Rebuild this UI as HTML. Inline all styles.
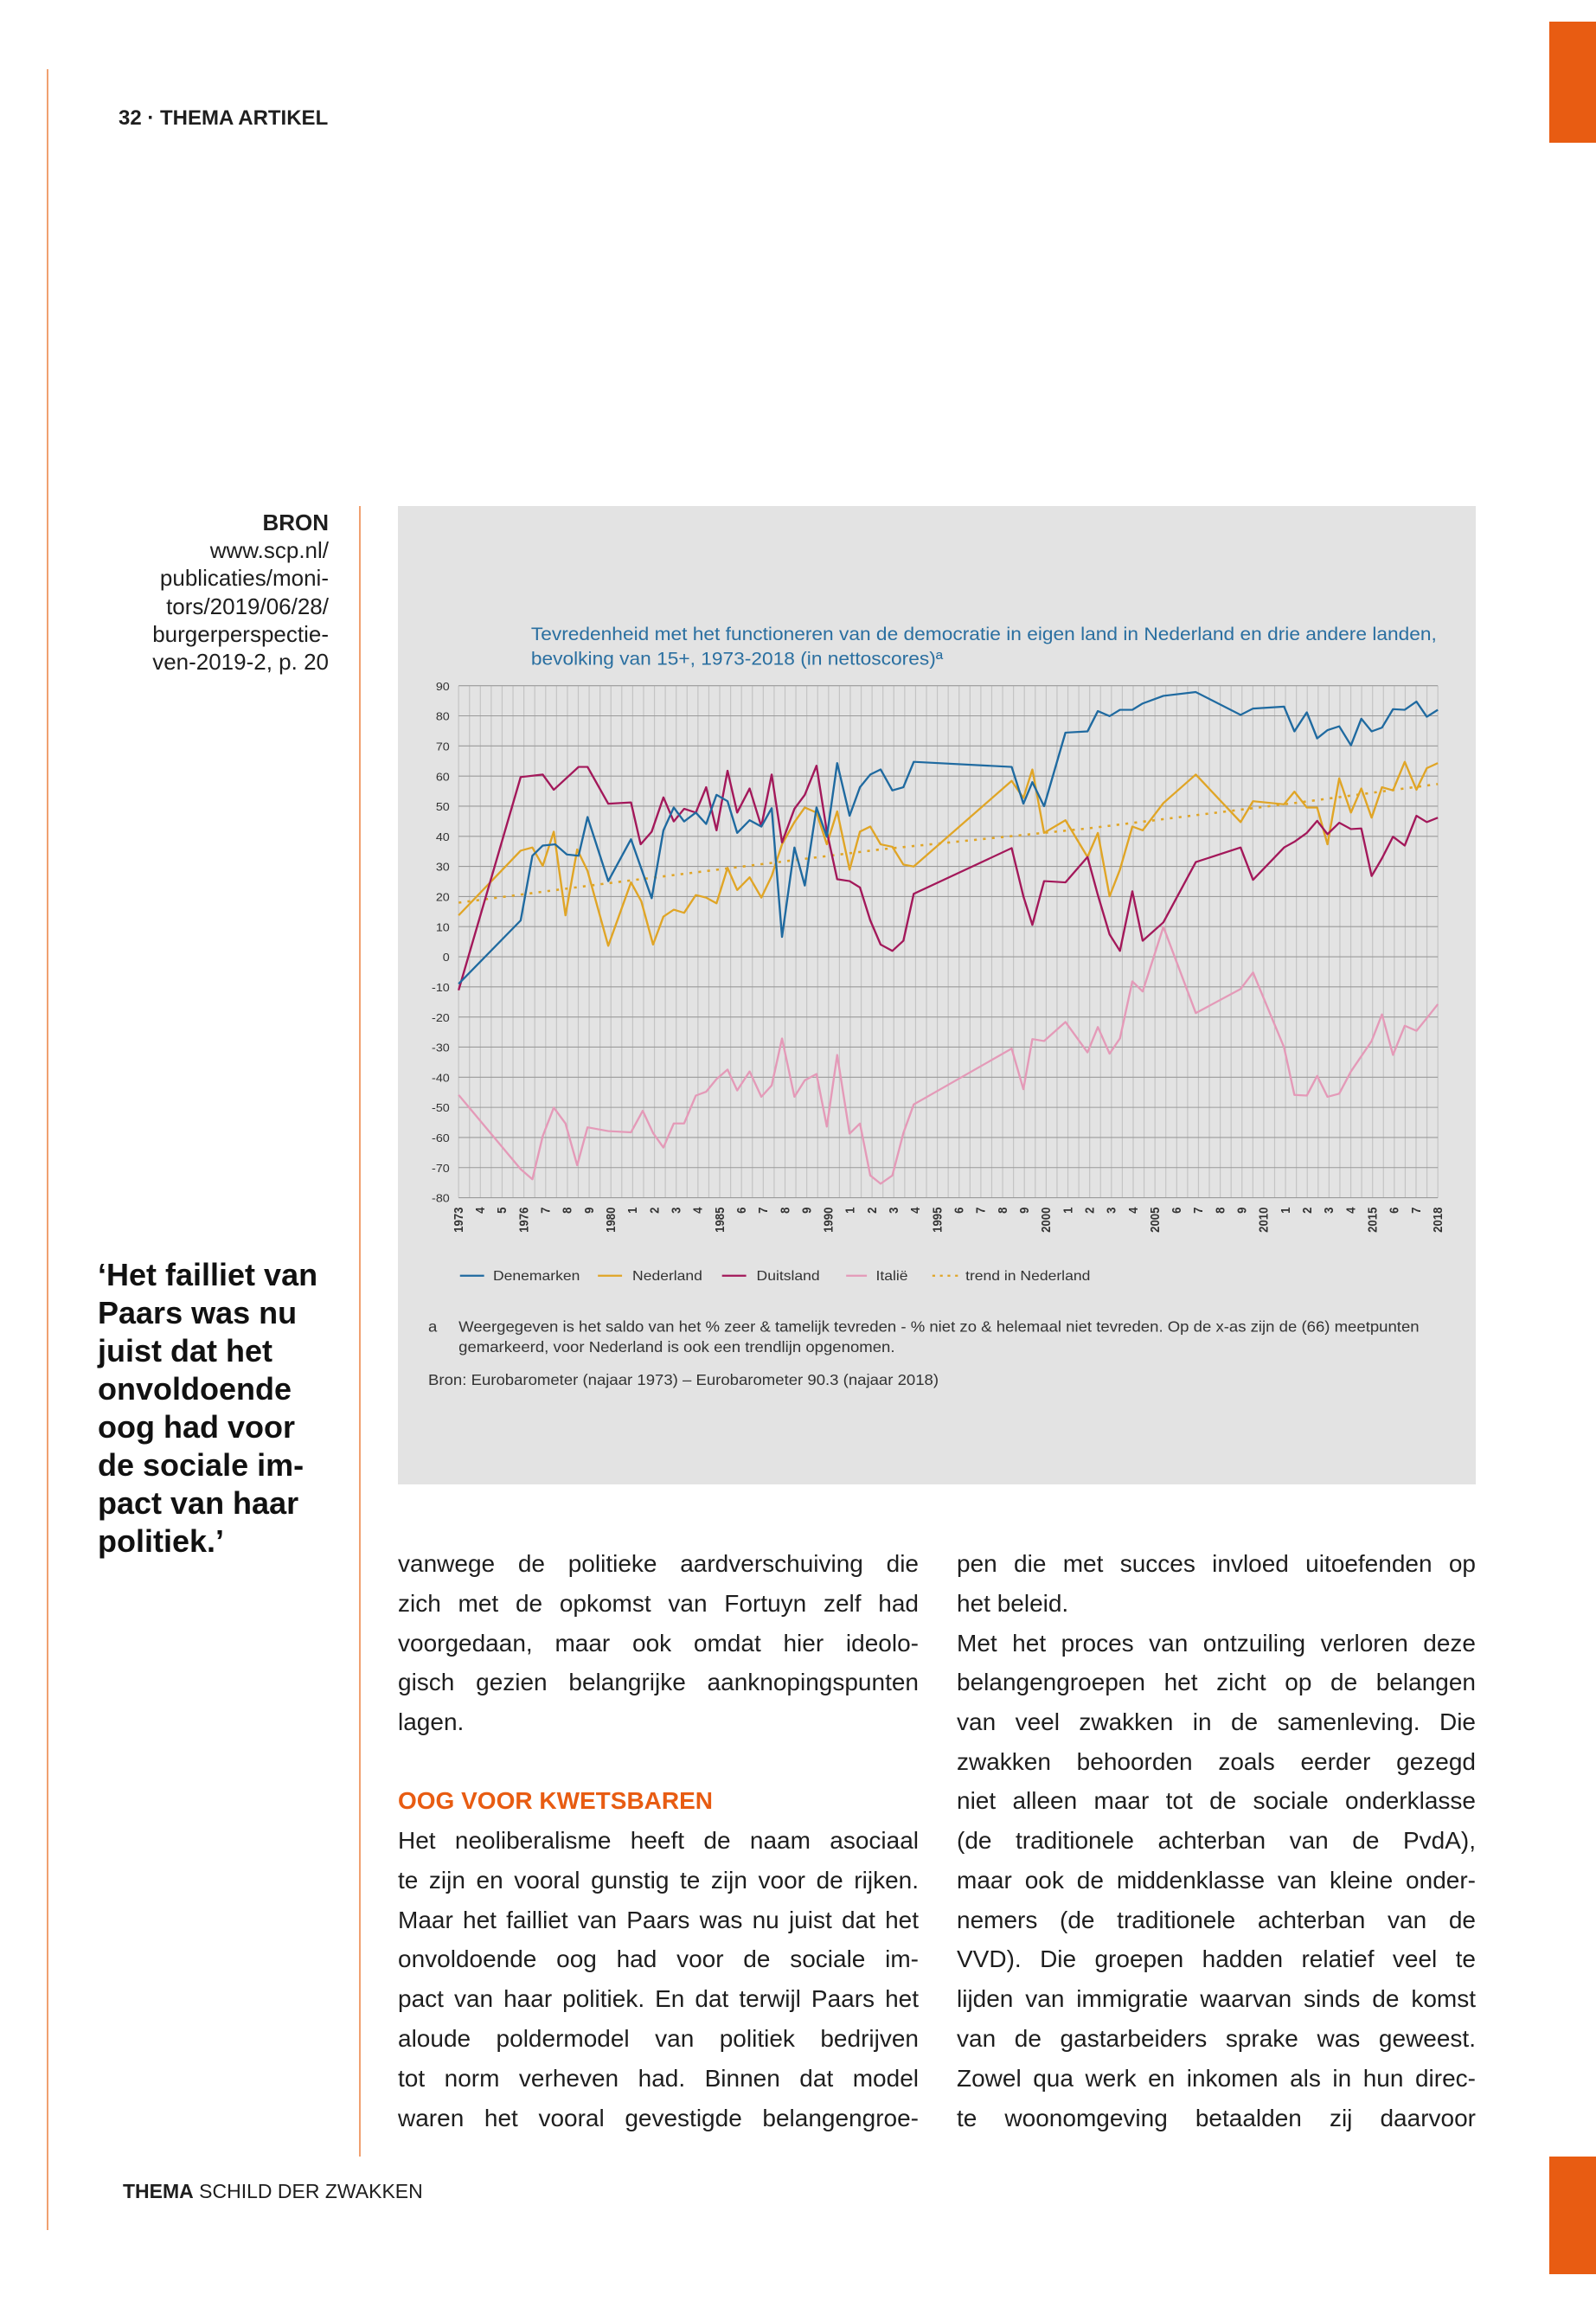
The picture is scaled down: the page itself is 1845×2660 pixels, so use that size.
<!DOCTYPE html>
<html><head><meta charset="utf-8"><style>
body{margin:0;width:1845px;height:2660px;position:relative;background:#fff;font-family:"Liberation Sans",sans-serif;color:#1e1e1e;overflow:hidden}
.a{position:absolute}
.ln{position:absolute;height:46px;line-height:46px;font-size:28px;white-space:nowrap}
.j{text-align:justify;text-align-last:justify}
.q{position:absolute;left:113px;font-size:36px;font-weight:bold;line-height:44px;color:#111}
.b{position:absolute;right:1465px;font-size:26px;line-height:32px;text-align:right;white-space:nowrap}
</style></head><body>
<div class="a" style="left:1791px;top:25px;width:54px;height:140px;background:#e85c12"></div>
<div class="a" style="left:1791px;top:2493px;width:54px;height:136px;background:#e85c12"></div>
<div class="a" style="left:54px;top:80px;width:2px;height:2498px;background:#f0a070"></div>
<div class="a" style="left:415px;top:585px;width:2px;height:1908px;background:#f0a070"></div>
<div class="a" style="left:137px;top:123px;font-size:24px;font-weight:bold;white-space:nowrap">32 · THEMA ARTIKEL</div>

<div class="b" style="top:588px;font-weight:bold">BRON</div>
<div class="b" style="top:620px">www.scp.nl/</div>
<div class="b" style="top:652px">publicaties/moni-</div>
<div class="b" style="top:685px">tors/2019/06/28/</div>
<div class="b" style="top:717px">burgerperspectie-</div>
<div class="b" style="top:749px">ven-2019-2, p. 20</div>

<div class="q" style="top:1452px">‘Het failliet van<br>Paars was nu<br>juist dat het<br>onvoldoende<br>oog had voor<br>de sociale im-<br>pact van haar<br>politiek.’</div>

<div class="a" style="left:460px;top:585px;width:1246px;height:1131px;background:#e3e3e3"></div>
<svg class="a" style="left:460px;top:580px" width="1250" height="1150" viewBox="0 0 1568 1568" preserveAspectRatio="none" font-family="Liberation Sans, sans-serif">
<g id="vg" stroke="#c4c4c4" stroke-width="1.5"></g>
<g id="hg" stroke="#9a9a9a" stroke-width="1.5"></g>
<text x="193" y="218" font-size="28.5" fill="#2a6fa0">Tevredenheid met het functioneren van de democratie in eigen land in Nederland en drie andere landen,</text>
<text x="193" y="257" font-size="28.5" fill="#2a6fa0">bevolking van 15+, 1973-2018 (in nettoscores)ª</text>
<g id="yl" font-size="18" fill="#333" text-anchor="end"></g>
<g id="xl" font-size="18" fill="#333" font-weight="bold"></g>
<g fill="none" stroke-width="3" stroke-linejoin="round">
<polyline stroke="#e49ab8" points="88,935 178,1052 195,1068 210,1000 226,955 243,980 260,1046 275,986 305,992 338,994 355,960 370,995 385,1018 400,980 415,980 432,936 447,930 462,910 478,895 492,928 510,898 527,938 542,920 557,846 575,938 590,912 607,902 622,985 637,872 655,996 670,980 685,1062 700,1075 717,1062 733,995 748,950 890,862 907,926 920,847 937,850 968,820 1000,868 1015,828 1032,870 1047,846 1065,756 1080,772 1110,670 1157,806 1222,768 1240,742 1285,860 1300,935 1318,936 1333,905 1348,938 1365,933 1382,898 1412,850 1427,808 1443,872 1460,826 1477,834 1492,814 1508,792"/>
<polyline stroke="#e0a526" stroke-width="3.5" stroke-dasharray="4,9" points="88,632 300,602 700,548 1000,515 1300,475 1508,445"/>
<polyline stroke="#e0a526" points="88,652 178,550 195,545 210,574 226,520 243,652 260,548 275,582 305,700 338,600 353,630 370,698 385,654 400,643 415,648 432,620 447,624 462,633 478,577 492,612 510,592 527,624 542,590 557,540 575,505 590,482 607,490 622,540 637,488 655,580 670,520 685,512 700,540 717,544 733,572 748,575 890,440 907,467 920,422 937,522 968,502 1000,560 1015,522 1032,622 1047,580 1065,512 1080,518 1110,475 1157,430 1222,505 1240,472 1285,477 1300,457 1318,482 1333,482 1348,540 1365,436 1382,490 1397,452 1412,498 1427,450 1443,455 1460,410 1477,454 1492,420 1508,412"/>
<polyline stroke="#a3185a" points="88,770 178,434 210,430 226,454 262,418 275,418 305,476 338,474 352,540 368,520 385,466 400,504 415,484 432,490 447,450 462,518 478,424 492,490 510,452 527,512 542,430 557,537 575,484 590,462 607,416 622,520 637,595 655,598 670,608 685,660 700,698 717,708 733,692 748,618 890,546 907,622 920,667 937,598 968,600 1000,560 1015,620 1032,682 1047,708 1065,614 1080,692 1110,663 1157,568 1222,545 1240,596 1285,545 1300,536 1318,522 1333,503 1348,524 1365,506 1382,516 1397,515 1412,590 1427,562 1443,528 1460,542 1477,495 1492,505 1508,498"/>
<polyline stroke="#1f6aa0" points="88,760 178,660 195,558 210,542 228,540 245,556 262,558 275,497 305,598 338,532 368,625 385,518 400,482 415,504 432,490 447,508 462,462 478,472 492,522 510,502 527,512 542,483 557,686 575,545 590,605 607,482 622,528 637,412 655,495 670,450 685,430 700,422 717,455 733,450 748,410 890,418 907,476 920,442 937,480 968,364 1000,362 1015,330 1032,338 1047,328 1065,328 1080,318 1110,306 1157,300 1222,336 1240,326 1285,323 1300,362 1318,332 1333,373 1348,360 1365,354 1382,384 1397,342 1412,362 1427,356 1443,327 1460,328 1477,315 1492,339 1508,328"/>
</g>
<g stroke-width="3">
<line x1="90" y1="1220" x2="125" y2="1220" stroke="#1f6aa0"/>
<line x1="290" y1="1220" x2="325" y2="1220" stroke="#e0a526"/>
<line x1="470" y1="1220" x2="505" y2="1220" stroke="#a3185a"/>
<line x1="650" y1="1220" x2="680" y2="1220" stroke="#e49ab8"/>
<line x1="775" y1="1220" x2="812" y2="1220" stroke="#e0a526" stroke-dasharray="4,7"/>
</g>
<g font-size="22" fill="#333">
<text x="138" y="1227">Denemarken</text><text x="340" y="1227">Nederland</text><text x="520" y="1227">Duitsland</text><text x="693" y="1227">Italië</text><text x="823" y="1227">trend in Nederland</text>
<text x="44" y="1308" font-size="23.3">a</text>
<text x="88" y="1308" font-size="23.3">Weergegeven is het saldo van het % zeer &amp; tamelijk tevreden - % niet zo &amp; helemaal niet tevreden. Op de x-as zijn de (66) meetpunten</text>
<text x="88" y="1340" font-size="23.3">gemarkeerd, voor Nederland is ook een trendlijn opgenomen.</text>
<text x="44" y="1392" font-size="23.3">Bron: Eurobarometer (najaar 1973) – Eurobarometer 90.3 (najaar 2018)</text>
</g>
</svg>

<div class="ln j" style="left:460px;top:1785px;width:602px">vanwege de politieke aardverschuiving die</div>
<div class="ln j" style="left:460px;top:1831px;width:602px">zich met de opkomst van Fortuyn zelf had</div>
<div class="ln j" style="left:460px;top:1877px;width:602px">voorgedaan, maar ook omdat hier ideolo-</div>
<div class="ln j" style="left:460px;top:1922px;width:602px">gisch gezien belangrijke aanknopingspunten</div>
<div class="ln" style="left:460px;top:1968px">lagen.</div>
<div class="ln" style="left:460px;top:2059px;color:#e85c12;font-weight:bold">OOG VOOR KWETSBAREN</div>
<div class="ln j" style="left:460px;top:2105px;width:602px">Het neoliberalisme heeft de naam asociaal</div>
<div class="ln j" style="left:460px;top:2151px;width:602px">te zijn en vooral gunstig te zijn voor de rijken.</div>
<div class="ln j" style="left:460px;top:2197px;width:602px">Maar het failliet van Paars was nu juist dat het</div>
<div class="ln j" style="left:460px;top:2242px;width:602px">onvoldoende oog had voor de sociale im-</div>
<div class="ln j" style="left:460px;top:2288px;width:602px">pact van haar politiek. En dat terwijl Paars het</div>
<div class="ln j" style="left:460px;top:2334px;width:602px">aloude poldermodel van politiek bedrijven</div>
<div class="ln j" style="left:460px;top:2380px;width:602px">tot norm verheven had. Binnen dat model</div>
<div class="ln j" style="left:460px;top:2426px;width:602px">waren het vooral gevestigde belangengroe-</div>

<div class="ln j" style="left:1106px;top:1785px;width:600px">pen die met succes invloed uitoefenden op</div>
<div class="ln" style="left:1106px;top:1831px">het beleid.</div>
<div class="ln j" style="left:1106px;top:1877px;width:600px">Met het proces van ontzuiling verloren deze</div>
<div class="ln j" style="left:1106px;top:1922px;width:600px">belangengroepen het zicht op de belangen</div>
<div class="ln j" style="left:1106px;top:1968px;width:600px">van veel zwakken in de samenleving. Die</div>
<div class="ln j" style="left:1106px;top:2014px;width:600px">zwakken behoorden zoals eerder gezegd</div>
<div class="ln j" style="left:1106px;top:2059px;width:600px">niet alleen maar tot de sociale onderklasse</div>
<div class="ln j" style="left:1106px;top:2105px;width:600px">(de traditionele achterban van de PvdA),</div>
<div class="ln j" style="left:1106px;top:2151px;width:600px">maar ook de middenklasse van kleine onder-</div>
<div class="ln j" style="left:1106px;top:2197px;width:600px">nemers (de traditionele achterban van de</div>
<div class="ln j" style="left:1106px;top:2242px;width:600px">VVD). Die groepen hadden relatief veel te</div>
<div class="ln j" style="left:1106px;top:2288px;width:600px">lijden van immigratie waarvan sinds de komst</div>
<div class="ln j" style="left:1106px;top:2334px;width:600px">van de gastarbeiders sprake was geweest.</div>
<div class="ln j" style="left:1106px;top:2380px;width:600px">Zowel qua werk en inkomen als in hun direc-</div>
<div class="ln j" style="left:1106px;top:2426px;width:600px">te woonomgeving betaalden zij daarvoor</div>

<div class="a" style="left:142px;top:2520px;font-size:23px;white-space:nowrap"><b>THEMA</b> SCHILD DER ZWAKKEN</div>

<script>
var NS="http://www.w3.org/2000/svg";
function el(p,t,a,txt){var e=document.createElementNS(NS,t);for(var k in a)e.setAttribute(k,a[k]);if(txt!=null)e.textContent=txt;p.appendChild(e);return e;}
var vg=document.getElementById('vg'),hg=document.getElementById('hg'),yl=document.getElementById('yl'),xl=document.getElementById('xl');
for(var i=0;i<=90;i++){var x=88+i*1420/90;el(vg,'line',{x1:x,y1:290,x2:x,y2:1097});}
for(var k=0;k<=17;k++){var y=290+k*807/17;el(hg,'line',{x1:88,y1:y,x2:1508,y2:y});el(yl,'text',{x:75,y:y+7},String(90-10*k));}
var labs=['1973','4','5','1976','7','8','9','1980','1','2','3','4','1985','6','7','8','9','1990','1','2','3','4','1995','6','7','8','9','2000','1','2','3','4','2005','6','7','8','9','2010','1','2','3','4','2015','6','7','2018'];
for(var j=0;j<labs.length;j++){var x=88+j*1420/45+6;el(xl,'text',{x:x,y:1112,'text-anchor':'end',transform:'rotate(-90 '+x+' 1112)'},labs[j]);}
</script>
</body></html>
